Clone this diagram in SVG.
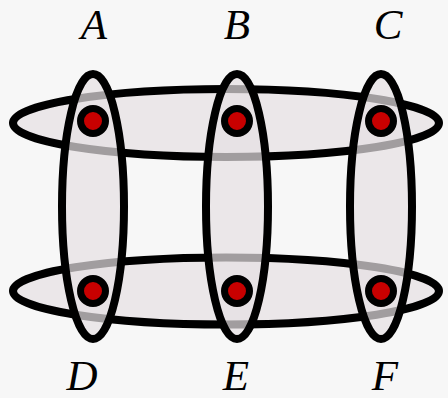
<svg xmlns="http://www.w3.org/2000/svg" width="448" height="398" viewBox="0 0 448 398">
<style>
.edge{fill:rgb(229,224,226);fill-opacity:0.7;stroke:#000;stroke-width:8}
.node{fill:#c80000;stroke:#000;stroke-width:7}
.lbl{font-family:"Liberation Serif",serif;font-style:italic;font-size:43px;fill:#000;text-anchor:middle}
</style>
<rect width="448" height="398" fill="#f7f7f7"/>
<g id="hyperedges">
<ellipse id="e-ABC" class="edge" cx="226" cy="123" rx="213" ry="34"/>
<ellipse id="e-DEF" class="edge" cx="226" cy="291" rx="213" ry="33.5"/>
<ellipse id="e-AD" class="edge" cx="93" cy="206.5" rx="31" ry="132.5"/>
<ellipse id="e-BE" class="edge" cx="237" cy="206.5" rx="31" ry="132.5"/>
<ellipse id="e-CF" class="edge" cx="381" cy="206.5" rx="31" ry="132.5"/>
</g>
<g id="A"><circle class="node" cx="93" cy="121" r="12.5"/><text class="lbl" x="94" y="39">A</text></g>
<g id="B"><circle class="node" cx="237" cy="121" r="12.5"/><text class="lbl" x="237" y="39">B</text></g>
<g id="C"><circle class="node" cx="381" cy="121" r="12.5"/><text class="lbl" x="388" y="39">C</text></g>
<g id="D"><circle class="node" cx="93" cy="291" r="12.5"/><text class="lbl" x="82" y="390">D</text></g>
<g id="E"><circle class="node" cx="237" cy="291" r="12.5"/><text class="lbl" x="236" y="390">E</text></g>
<g id="F"><circle class="node" cx="381" cy="291" r="12.5"/><text class="lbl" x="385" y="390">F</text></g>
</svg>
